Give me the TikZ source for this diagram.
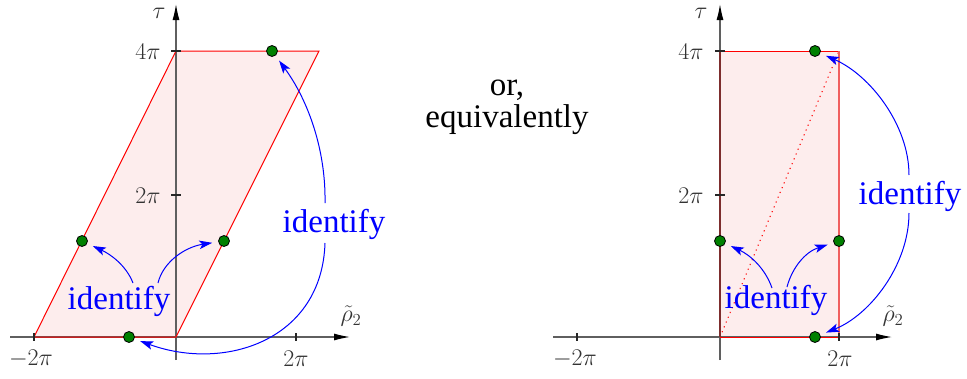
\RequirePackage{fix-cm}
\documentclass[tikz,border=0pt]{standalone}
\usepackage[no-math]{fontspec}
\newfontfamily\tnr{LiberationSerif-Regular.ttf}
\usetikzlibrary{arrows.meta}
\definecolor{fillpink}{RGB}{253,237,237}
\definecolor{axgray}{RGB}{95,95,95}
\definecolor{dotgreen}{RGB}{0,128,0}
\definecolor{edgebrown}{RGB}{125,45,45}
\definecolor{edgelight}{RGB}{240,95,95}
\begin{document}
\begin{tikzpicture}[x=1pt,y=-1pt,
  axis/.style={draw=axgray, line width=1.2pt, -{Latex[length=16pt,width=7pt,color=black]}},
  tickmark/.style={draw=black!85, line width=1.1pt},
  ticklabel/.style={text=black!80, font=\fontsize{24}{28}\selectfont, inner sep=0pt},
  region/.style={fill=fillpink},
  edge/.style={draw=red, line width=1pt},
  gdot/.style={circle, fill=dotgreen, draw=black, line width=0.8pt, minimum size=11pt, inner sep=0pt},
  idarrow/.style={draw=blue, line width=1pt, -{Stealth[length=13pt,width=8.5pt,inset=3pt]}, shorten >=6pt},
  idlabel/.style={text=blue, font=\tnr\fontsize{33}{36}\selectfont, inner sep=0pt},
  midtext/.style={font=\tnr\fontsize{33}{32}\selectfont, align=center, inner sep=0pt}
]
\useasboundingbox (0,0) rectangle (967,378);

% ---------------- left panel ----------------
\fill[region] (34,337) -- (176,337) -- (319,51) -- (176,51) -- cycle;
\coordinate (LxS) at (10,337); \coordinate (LxE) at (350,337);
\coordinate (LyS) at (176,360); \coordinate (LyE) at (176,4);
\draw[axis] (LxS) -- (LxE);
\draw[axis] (LyS) -- (LyE);
\draw[edge] (34,337) -- (176,337) -- (319,51) -- (176,51) -- cycle;
\draw[tickmark] (34,333) -- (34,341);
\draw[tickmark] (296,333) -- (296,341);
\draw[tickmark] (171,51) -- (181,51);
\draw[tickmark] (171,195) -- (181,195);
\node[ticklabel] (L4pi) at (148,52) {$4\pi$};
\node[ticklabel] (L2pi) at (148,196) {$2\pi$};
\node[ticklabel] (Lm2pi) at (31,359) {$-2\pi$};
\node[ticklabel] (Lp2pi) at (296,359) {$2\pi$};
\node[ticklabel] (Ltau) at (159,13) {$\tau$};
\node[ticklabel] (Lrho) at (351,316) {$\tilde\rho_2$};

\node[idlabel] (LidA) at (119,301) {identify};
\node[idlabel] (LidB) at (334,224) {identify};

\node[gdot] (Ld1) at (129,337) {};
\node[gdot] (Ld2) at (82,241) {};
\node[gdot] (Ld3) at (224,241) {};
\node[gdot] (Ld4) at (272,51) {};

\coordinate (LaS1) at (133,283);
\coordinate (LaS2) at (158,283);
\coordinate (LbS1) at (325,203);
\coordinate (LbS2) at (325,243);
\draw[idarrow] (LaS1) .. controls (126,265) and (110,254) .. (Ld2);
\draw[idarrow] (LaS2) .. controls (163,262) and (185,247) .. (Ld3);
\draw[idarrow] (LbS1) .. controls (326,150) and (308,100) .. (Ld4);
\draw[idarrow] (LbS2) .. controls (322,340) and (225,372) .. (Ld1);

% ---------------- middle text ----------------
\node[midtext] (mid) at (507,107) {or,\\equivalently};

% ---------------- right panel ----------------
\fill[region] (720,337) rectangle (839,51);
\draw[red, line width=1pt, dash pattern=on 1.2pt off 4pt] (720,337) -- (839,51);
\coordinate (RxS) at (553,337); \coordinate (RxE) at (892,337);
\coordinate (RyS) at (720,360); \coordinate (RyE) at (720,4);
\draw[edge] (720,51) -- (839,51);
\draw[draw=edgelight, line width=1.8pt] (839,337) -- (839,51);
\draw[axis] (RxS) -- (RxE);
\draw[axis] (RyS) -- (RyE);
\draw[draw=edgebrown, line width=1.8pt] (720,337) -- (720,51);
\draw[edge] (720,337) -- (839,337);
\draw[tickmark] (577,333) -- (577,341);
\draw[tickmark] (839,333) -- (839,341);
\draw[tickmark] (715,51) -- (725,51);
\draw[tickmark] (715,195) -- (725,195);
\node[ticklabel] (R4pi) at (691,52) {$4\pi$};
\node[ticklabel] (R2pi) at (691,196) {$2\pi$};
\node[ticklabel] (Rm2pi) at (575,359) {$-2\pi$};
\node[ticklabel] (Rp2pi) at (840,359) {$2\pi$};
\node[ticklabel] (Rtau) at (701,13) {$\tau$};
\node[ticklabel] (Rrho) at (893,316) {$\tilde\rho_2$};

\node[idlabel] (RidA) at (776,300) {identify};
\node[idlabel] (RidB) at (910,196) {identify};

\node[gdot] (Rd1) at (815,337) {};
\node[gdot] (Rd2) at (720,241) {};
\node[gdot] (Rd3) at (839,241) {};
\node[gdot] (Rd4) at (815,51) {};

\coordinate (RaS1) at (772,288);
\coordinate (RaS2) at (787,287);
\coordinate (RbS1) at (909,175);
\coordinate (RbS2) at (909,213);
\draw[idarrow] (RaS1) .. controls (765,268) and (750,255) .. (Rd2);
\draw[idarrow] (RaS2) .. controls (792,268) and (805,252) .. (Rd3);
\draw[idarrow] (RbS1) .. controls (909,125) and (870,75) .. (Rd4);
\draw[idarrow] (RbS2) .. controls (909,265) and (870,315) .. (Rd1);
\end{tikzpicture}
\end{document}
